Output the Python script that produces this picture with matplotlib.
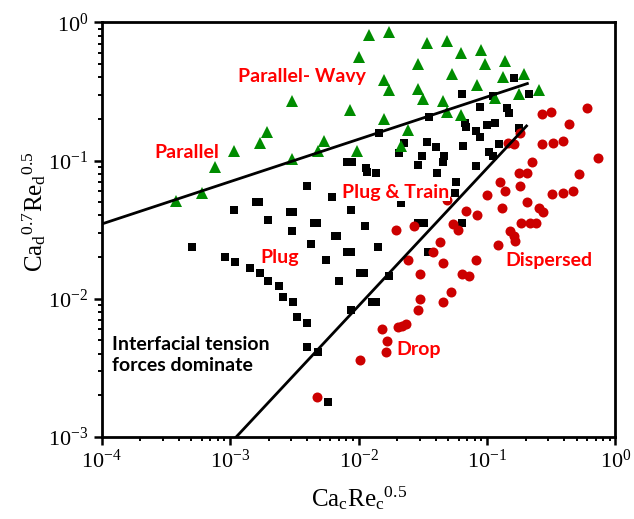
import matplotlib
matplotlib.use("Agg")
import matplotlib.pyplot as plt

plt.rcParams['font.family'] = ['Liberation Serif', 'DejaVu Serif']
plt.rcParams['mathtext.fontset'] = 'custom'
plt.rcParams['mathtext.rm'] = 'Liberation Serif'
plt.rcParams['mathtext.it'] = 'Liberation Serif:italic'
plt.rcParams['mathtext.bf'] = 'Liberation Serif:bold'

# ---- data ----
tri_x = [3.78e-4, 6.0e-4, 7.66e-4, 1.07e-3, 1.71e-3, 1.92e-3, 3.04e-3, 3.04e-3, 4.85e-3, 5.40e-3,
         8.63e-3, 9.70e-3, 1.01e-2, 1.21e-2, 1.72e-2, 3.40e-2, 4.84e-2, 6.25e-2, 8.95e-2, 2.91e-2,
         9.67e-2, 0.138, 5.35e-2, 0.134, 0.193, 1.58e-2, 1.71e-2, 2.88e-2, 3.15e-2, 4.51e-2,
         8.28e-2, 1.58e-2, 4.84e-2, 6.25e-2, 0.116, 0.177, 0.253, 2.43e-2, 2.13e-2]
tri_y = [0.0509, 0.0585, 0.0902, 0.117, 0.135, 0.160, 0.271, 0.102, 0.118, 0.138,
         0.234, 0.117, 0.565, 0.811, 0.857, 0.707, 0.738, 0.598, 0.632, 0.498,
         0.498, 0.526, 0.423, 0.401, 0.423, 0.383, 0.324, 0.328, 0.278, 0.271,
         0.352, 0.200, 0.226, 0.214, 0.282, 0.303, 0.324, 0.166, 0.127]

sq_x = [0.163, 0.213, 0.0633, 0.111, 0.0889, 0.142, 0.148, 0.0354, 0.0145, 0.0672,
        0.0684, 0.0991, 0.116, 0.0815, 0.0889, 0.177, 0.0342, 0.0397, 0.0652, 0.124,
        0.0225, 0.0207, 0.103, 0.111, 0.0309, 0.0291, 0.0464, 0.0451, 0.0815, 0.00815,
        0.00883, 0.0114, 0.0117, 0.0136, 0.0405, 0.0569, 0.00624, 0.00867, 0.0113, 0.0213,
        0.056, 0.0291, 0.0322, 0.0640, 0.00655, 0.00682, 0.0142, 0.00807, 0.00871, 0.0344,
        0.0102, 0.0111, 0.0173, 0.00703, 0.0128, 0.0136, 0.00867, 0.00574, 0.00398, 0.00159,
        0.00168, 0.00107, 0.00292, 0.00310, 0.00198, 0.00449, 0.00477, 0.00304, 0.000501, 0.00423,
        0.000912, 0.00110, 0.00557, 0.00143, 0.00171, 0.00198, 0.00240, 0.00259, 0.00310, 0.00330,
        0.00394, 0.00398, 0.00480]
sq_y = [0.398, 0.303, 0.303, 0.295, 0.243, 0.239, 0.222, 0.208, 0.159, 0.186,
        0.175, 0.181, 0.188, 0.164, 0.149, 0.171, 0.136, 0.126, 0.128, 0.131,
        0.133, 0.113, 0.116, 0.107, 0.108, 0.0928, 0.108, 0.098, 0.0917, 0.098,
        0.098, 0.0887, 0.0821, 0.0816, 0.0816, 0.0702, 0.0541, 0.0438, 0.0335, 0.0492,
        0.058, 0.0354, 0.0354, 0.0354, 0.0285, 0.0285, 0.0237, 0.0218, 0.0218, 0.0218,
        0.0154, 0.0154, 0.0146, 0.0135, 0.00948, 0.00948, 0.00825, 0.00179, 0.0653, 0.0498,
        0.0498, 0.0438, 0.0426, 0.0426, 0.0371, 0.0354, 0.0354, 0.0308, 0.0237, 0.0248,
        0.0201, 0.0185, 0.0190, 0.0167, 0.0154, 0.0134, 0.0123, 0.0103, 0.00948, 0.00731,
        0.00668, 0.00448, 0.00411]

circ_x = [0.269, 0.313, 0.605, 0.436, 0.182, 0.269, 0.327, 0.391, 0.733, 0.145,
          0.163, 0.224, 0.177, 0.203, 0.521, 0.126, 0.180, 0.0997, 0.138, 0.323,
          0.391, 0.463, 0.203, 0.131, 0.254, 0.273, 0.0684, 0.0828, 0.183, 0.215,
          0.240, 0.0269, 0.0196, 0.0539, 0.0596, 0.151, 0.163, 0.164, 0.121, 0.0430,
          0.0381, 0.0243, 0.0455, 0.0819, 0.0300, 0.0640, 0.0726, 0.0300, 0.0520, 0.0455,
          0.0288, 0.0151, 0.0203, 0.0216, 0.0232, 0.0165, 0.0163, 0.0102, 0.00477, 0.0486]
circ_y = [0.216, 0.226, 0.239, 0.183, 0.159, 0.131, 0.133, 0.138, 0.104, 0.133,
          0.132, 0.098, 0.0816, 0.0816, 0.0794, 0.0705, 0.0657, 0.0562, 0.0604, 0.0572,
          0.0584, 0.0604, 0.0503, 0.0455, 0.0450, 0.0426, 0.0433, 0.0403, 0.0351, 0.0354,
          0.0354, 0.0338, 0.0314, 0.0345, 0.0314, 0.0311, 0.0284, 0.0261, 0.0244, 0.0258,
          0.0218, 0.0190, 0.0182, 0.0190, 0.0151, 0.0151, 0.0146, 0.0100, 0.0111, 0.00938,
          0.00825, 0.00601, 0.00618, 0.00635, 0.00653, 0.00494, 0.00411, 0.00358, 0.00194, 0.0517]

upper_line_x = [1e-4, 0.206]
upper_line_y = [0.0347, 0.361]
lower_line_x = [1.12e-3, 0.203]
lower_line_y = [1.0e-3, 0.178]

region_labels = ["Parallel- Wavy", "Parallel", "Plug & Train", "Plug", "Dispersed", "Drop"]
region_x = [3.62e-3, 4.61e-4, 1.95e-2, 2.44e-3, 0.306, 2.94e-2]
region_y = [0.403, 0.115, 0.0591, 0.0197, 0.0188, 4.31e-3]

x_label = r'Ca$_{\mathrm{c}}$Re$_{\mathrm{c}}$$^{0.5}$'
y_label = r'Ca$_{\mathrm{d}}$$^{0.7}$Re$_{\mathrm{d}}$$^{0.5}$'

# ---- figure ----
fig = plt.figure(figsize=(6.34, 5.19), dpi=100)
ax = fig.add_axes([0.1604, 0.1586, 0.8104, 0.7981])

ax.plot(sq_x, sq_y, 's', color='black', ms=6.3, mew=0, zorder=2)
ax.plot(tri_x, tri_y, '^', color='#008C00', ms=8.6, mew=0, zorder=2)
ax.plot(circ_x, circ_y, 'o', color='#CC0000', ms=7.2, mew=0, zorder=2)

ax.plot(upper_line_x, upper_line_y, '-', color='black', lw=2.0, zorder=3)
ax.plot(lower_line_x, lower_line_y, '-', color='black', lw=2.0, zorder=3)

ax.set_xscale('log')
ax.set_yscale('log')
ax.set_xlim(1e-4, 1)
ax.set_ylim(1e-3, 1)

lab_font = dict(family=['Lato', 'DejaVu Sans'], weight='bold', fontsize=14)
for lbl, lx, ly in zip(region_labels, region_x, region_y):
    kw = {}
    if lbl == "Plug & Train":
        kw['bbox'] = dict(facecolor='white', edgecolor='none', pad=0.5)
    ax.text(lx, ly, lbl, color='#FF0000', ha='center', va='center', zorder=4, **lab_font, **kw)

ax.text(1.20e-4, 3.90e-3, "Interfacial tension\nforces dominate", color='black',
        ha='left', va='center', linespacing=1.3, zorder=4, **lab_font)

for sp in ax.spines.values():
    sp.set_linewidth(2.0)

ax.tick_params(which='both', direction='out', top=False, right=False, labelsize=16)
ax.tick_params(which='major', length=6, width=1.8)
ax.tick_params(which='minor', length=3, width=1.4)

ax.set_xlabel(x_label, fontsize=18, labelpad=8)
ax.set_ylabel(y_label, fontsize=18)
ax.yaxis.set_label_coords(-0.104, 0.543)

fig.savefig('out.png', dpi=100)
